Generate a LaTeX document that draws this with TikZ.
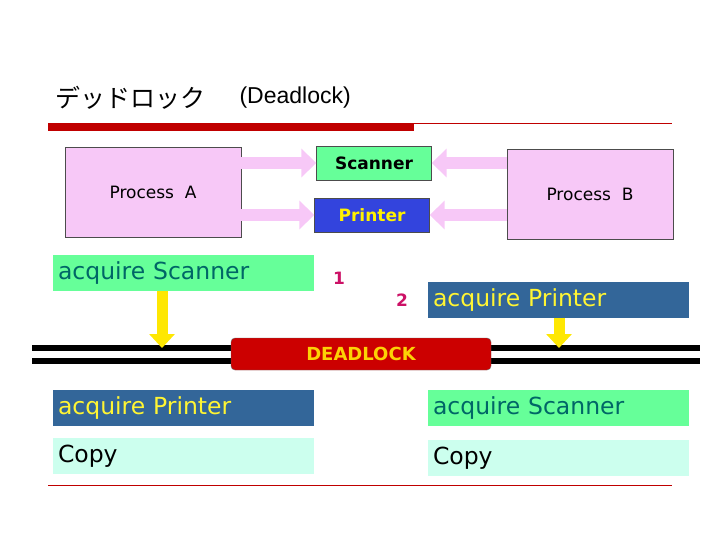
\documentclass[tikz,border=0pt]{standalone}
\usepackage{fontspec}
\setmainfont{DejaVu Sans}
\newfontfamily\jpfont{Noto Sans CJK JP}
\newfontfamily\arialfont{Liberation Sans}
\usetikzlibrary{arrows.meta,positioning}
\definecolor{procpink}{HTML}{F7C8F7}
\definecolor{resgreen}{HTML}{66FF99}
\definecolor{resblue}{HTML}{3344DD}
\definecolor{stepblue}{HTML}{336699}
\definecolor{copymint}{HTML}{CCFFEE}
\definecolor{lockred}{HTML}{CC0000}
\definecolor{barred}{HTML}{C00000}
\definecolor{steptext}{HTML}{006666}
\definecolor{numpink}{HTML}{CC1166}
\begin{document}
\begin{tikzpicture}[x=1pt,y=-1pt,
    proc/.style={draw=black!70,fill=procpink,minimum width=#1,minimum height=90pt,font=\fontsize{17}{19}\selectfont},
    res/.style={draw=black!70,minimum width=115pt,minimum height=34pt,font=\bfseries\fontsize{17}{19}\selectfont},
    stepbox/.style={minimum width=261pt,minimum height=36pt,text width=250pt,align=left,font=\fontsize{23.5}{26}\selectfont},
    num/.style={text=numpink,font=\bfseries\fontsize{17}{19}\selectfont},
    fat/.style={line width=12pt,procpink,-{Triangle[length=15pt,width=28pt]}},
    yel/.style={line width=11pt,yellow!90!orange,-{Triangle[length=14pt,width=25pt]}},
    rail/.style={line width=6pt,black}]
  \useasboundingbox (0,0) rectangle (720,540);
  % title
  \node[anchor=west,font=\jpfont\fontsize{25}{28}\selectfont] (title) at (52,98) {デッドロック};
  \node[anchor=west,font=\arialfont\fontsize{23}{26}\selectfont] (sub) at (236,98) {(Deadlock)};
  \fill[barred] (48,123) rectangle (414,131);
  \draw[barred,line width=0.6pt] (48,123) -- (672,123);
  \draw[barred,line width=0.6pt] (48,485) -- (672,485);
  % processes and resources
  \node[proc=176pt] (pa) at (153,192) {Process\ \ A};
  \node[proc=166pt] (pb) at (590,194) {Process\ \ B};
  \node[res,fill=resgreen] (scan) at (374,163) {Scanner};
  \node[res,fill=resblue,text=yellow] (prn) at (372,215) {Printer};
  \draw[fat] (pa.east |- scan) -- (scan.west);
  \draw[fat] (pa.east |- prn) -- (prn.west);
  \draw[fat] (pb.west |- scan) -- (scan.east);
  \draw[fat] (pb.west |- prn) -- (prn.east);
  % steps
  \node[stepbox,fill=resgreen,text=steptext] (s1) at (183,273) {acquire Scanner};
  \node[stepbox,fill=stepblue,text=yellow!80!white] (s2) at (558,300) {acquire Printer};
  \node[num] (n1) at (339,278) {1};
  \node[num] (n2) at (402,300) {2};
  % rails
  \coordinate (rl) at (32,348);
  \coordinate (rr) at (700,348);
  \draw[rail] (rl) -- (rr);
  \draw[rail] ([yshift=-13pt]rl) -- ([yshift=-13pt]rr);
  \node[draw=black!60,fill=lockred,rounded corners=4pt,minimum width=260pt,minimum height=32pt,
    text=yellow!70!orange,font=\bfseries\fontsize{18}{20}\selectfont] (lock) at (361,354) {DEADLOCK};
  \coordinate (d1) at (162,348);
  \coordinate (d2) at (559,348);
  \draw[yel] (s1.south -| d1) -- (d1);
  \draw[yel] (s2.south -| d2) -- (d2);
  % afterwards
  \node[stepbox,fill=stepblue,text=yellow!80!white] (a1) at (183,408) {acquire Printer};
  \node[stepbox,fill=resgreen,text=steptext] (b1) at (558,408) {acquire Scanner};
  \node[stepbox,fill=copymint,text=black] (a2) at (183,456) {Copy};
  \node[stepbox,fill=copymint,text=black] (b2) at (558,458) {Copy};
\end{tikzpicture}
\end{document}
